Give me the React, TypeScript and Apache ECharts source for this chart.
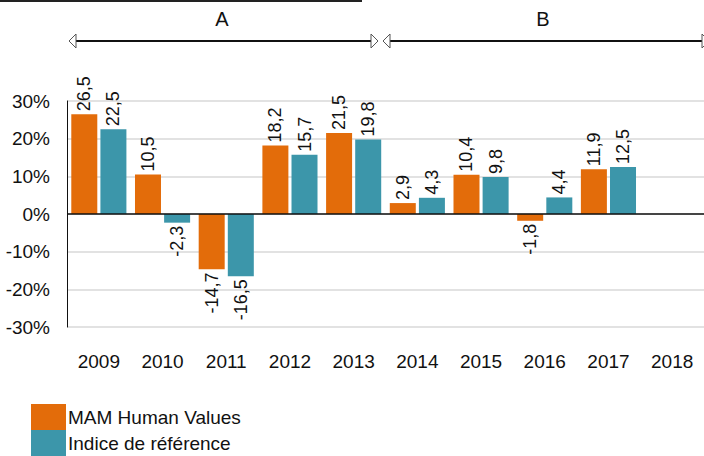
import React, { useEffect, useRef } from "react";
import * as echarts from "echarts";

const years = ["2009", "2010", "2011", "2012", "2013", "2014", "2015", "2016", "2017", "2018"];
const mamValues: (number | null)[] = [26.5, 10.5, -14.7, 18.2, 21.5, 2.9, 10.4, -1.8, 11.9, null];
const indexValues: (number | null)[] = [22.5, -2.3, -16.5, 15.7, 19.8, 4.3, 9.8, 4.4, 12.5, null];
const seriesNames = ["MAM Human Values", "Indice de référence"];
const periodLabels = ["A", "B"];

const FONT = "'Liberation Sans', Arial, sans-serif";

function toData(vals: (number | null)[]) {
  return vals.map((v) =>
    v === null
      ? null
      : {
          value: v,
          label:
            v >= 0
              ? { position: "top", rotate: 90, align: "left", verticalAlign: "middle" }
              : { position: "bottom", rotate: 90, align: "right", verticalAlign: "middle" },
        }
  );
}

function arrowHead(tipX: number, y: number, dir: number) {
  const baseX = tipX - dir * 7;
  return {
    type: "polygon",
    shape: { points: [[tipX, y], [baseX, y - 7], [baseX, y + 7]] },
    style: { fill: "#ffffff", stroke: "#555", lineWidth: 1 },
  };
}

export default function App() {
  const ref = useRef<HTMLDivElement>(null);
  useEffect(() => {
    if (!ref.current) return;
    const chart = echarts.init(ref.current, null, { renderer: "svg" });
    const labelCommon = {
      show: true,
      fontFamily: FONT,
      fontSize: 18,
      color: "#111",
      distance: 3,
      formatter: (p: any) => String(p.value).replace(".", ","),
    };
    chart.setOption({
      animation: false,
      backgroundColor: "#ffffff",
      textStyle: { fontFamily: FONT },
      grid: { left: 67, top: 101, width: 641, height: 226, containLabel: false },
      legend: {
        orient: "vertical",
        left: 31,
        top: 404,
        padding: 0,
        itemWidth: 35,
        itemHeight: 26,
        itemGap: 0,
        icon: "rect",
        textStyle: { fontFamily: FONT, fontSize: 19, color: "#111", padding: [0, 0, 0, -3] },
        data: seriesNames,
      },
      xAxis: {
        type: "category",
        data: years,
        position: "bottom",
        axisLine: { show: false },
        axisTick: { show: false },
        axisLabel: { fontFamily: FONT, fontSize: 19, color: "#111", margin: 25 },
      },
      yAxis: {
        type: "value",
        min: -30,
        max: 30,
        interval: 10,
        axisLine: { show: true, lineStyle: { color: "#111", width: 1 } },
        axisTick: { show: false },
        axisLabel: {
          fontFamily: FONT,
          fontSize: 19,
          color: "#111",
          margin: 17,
          formatter: (v: number) => `${v}%`,
        },
        splitLine: { show: true, lineStyle: { color: "#d9d9d9", width: 1.5 } },
      },
      series: [
        {
          name: seriesNames[0],
          type: "bar",
          data: toData(mamValues),
          barWidth: 26,
          barGap: "12%",
          itemStyle: { color: "#E36C0A" },
          label: labelCommon,
          markLine: {
            silent: true,
            symbol: "none",
            label: { show: false },
            lineStyle: { color: "#111", width: 1.5, type: "solid" },
            data: [{ yAxis: 0 }],
          },
        },
        {
          name: seriesNames[1],
          type: "bar",
          data: toData(indexValues),
          barWidth: 26,
          itemStyle: { color: "#3C96AA" },
          label: labelCommon,
        },
      ],
      graphic: [
        { type: "line", shape: { x1: 0, y1: 1, x2: 362, y2: 1 }, style: { stroke: "#222", lineWidth: 2 } },
        { type: "line", shape: { x1: 76, y1: 41, x2: 371, y2: 41 }, style: { stroke: "#111", lineWidth: 2 } },
        arrowHead(69, 41, -1),
        arrowHead(378, 41, 1),
        { type: "line", shape: { x1: 390, y1: 41, x2: 704, y2: 41 }, style: { stroke: "#111", lineWidth: 2 } },
        arrowHead(383, 41, -1),
        arrowHead(709, 41, 1),
        {
          type: "text",
          x: 222,
          y: 19,
          style: { text: periodLabels[0], fontFamily: FONT, fontSize: 20, fill: "#111", align: "center", verticalAlign: "middle" },
        },
        {
          type: "text",
          x: 543,
          y: 19,
          style: { text: periodLabels[1], fontFamily: FONT, fontSize: 20, fill: "#111", align: "center", verticalAlign: "middle" },
        },
      ],
    });
    return () => chart.dispose();
  }, []);
  return (
    <div
      ref={ref}
      style={{ position: "fixed", left: 0, top: 0, width: 704, height: 456, background: "#fff" }}
    />
  );
}
